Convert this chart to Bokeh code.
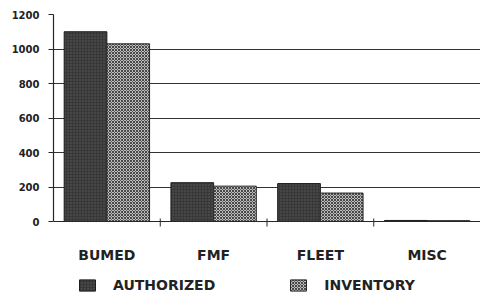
from bokeh.plotting import figure
from bokeh.models import (FactorRange, Range1d, FixedTicker, Legend, LegendItem,
                          ColumnDataSource)
from bokeh.transform import dodge
from bokeh.embed import file_html
from bokeh.resources import INLINE

categories = ["BUMED", "FMF", "FLEET", "MISC"]
authorized = [1100, 225, 220, 6]
inventory = [1030, 205, 165, 5]
series_names = ["AUTHORIZED", "INVENTORY"]
y_ticks = [0, 200, 400, 600, 800, 1000, 1200]

# layout (pixels)
W, H = 480, 294
LEFT, TOP = 53, 14
ZERO_PX = 207
YMAX = 1200
frame_h = H - TOP
ymin = -YMAX * (frame_h - ZERO_PX) / ZERO_PX
units_per_px = YMAX / ZERO_PX

src = ColumnDataSource(dict(cat=categories, auth=authorized, inv=inventory))

p = figure(width=W, height=H,
           x_range=FactorRange(factors=categories, range_padding=0),
           y_range=Range1d(ymin, YMAX),
           output_backend="svg", toolbar_location=None,
           min_border_left=LEFT, min_border_top=TOP,
           min_border_right=0, min_border_bottom=0)
p.outline_line_color = None
p.background_fill_color = "white"
p.border_fill_color = "white"

dark = "#262626"

r_auth = p.vbar(x=dodge("cat", -0.2, range=p.x_range), top="auth", width=0.4,
                source=src, fill_color="#383838", line_color="#1e1e1e", line_width=1,
                hatch_pattern="dot", hatch_color="#5c5c5c", hatch_scale=3, hatch_weight=1)
r_inv = p.vbar(x=dodge("cat", 0.2, range=p.x_range), top="inv", width=0.4,
               source=src, fill_color="#bcbcbc", line_color="#2a2a2a", line_width=1,
               hatch_pattern="diagonal_cross", hatch_color="#484848", hatch_scale=3,
               hatch_weight=1)

# y axis
ya = p.yaxis[0]
ya.ticker = FixedTicker(ticks=y_ticks)
ya.bounds = (0, YMAX)
ya.axis_line_color = dark
ya.axis_line_width = 1.2
ya.major_tick_line_color = dark
ya.major_tick_out = 5
ya.major_tick_in = 0
ya.minor_tick_line_color = None
ya.major_label_standoff = 9
ya.major_label_text_font = "DejaVu Sans"
ya.major_label_text_font_style = "bold"
ya.major_label_text_font_size = "10px"
ya.major_label_text_color = "#222222"

# x axis at y = 0
xa = p.xaxis[0]
xa.fixed_location = 0
xa.axis_line_color = dark
xa.axis_line_width = 1.2
xa.major_tick_line_color = None
xa.major_tick_out = 0
xa.major_tick_in = 0
xa.minor_tick_line_color = None
xa.major_label_standoff = 25
xa.major_label_text_font = "DejaVu Sans"
xa.major_label_text_font_style = "bold"
xa.major_label_text_font_size = "14px"
xa.major_label_text_color = "#222222"

# tick marks on category boundaries
bounds = list(range(1, len(categories)))
p.segment(x0=bounds, x1=bounds, y0=[3 * units_per_px] * len(bounds),
          y1=[-5 * units_per_px] * len(bounds), line_color=dark, line_width=1)

p.xgrid.visible = False
p.ygrid.ticker = FixedTicker(ticks=y_ticks[1:])
p.ygrid.grid_line_color = "#333333"
p.ygrid.grid_line_width = 1

legend = Legend(items=[LegendItem(label=series_names[0], renderers=[r_auth]),
                       LegendItem(label=series_names[1], renderers=[r_inv])],
                location=(24, 1), orientation="horizontal",
                glyph_width=20, glyph_height=14, label_height=14, label_width=20,
                label_standoff=16, spacing=73, padding=0, margin=0,
                border_line_color=None, background_fill_alpha=0,
                label_text_font="DejaVu Sans", label_text_font_style="bold",
                label_text_font_size="14px", label_text_color="#222222")
p.add_layout(legend)

open("out.html", "w").write(file_html(p, INLINE))
